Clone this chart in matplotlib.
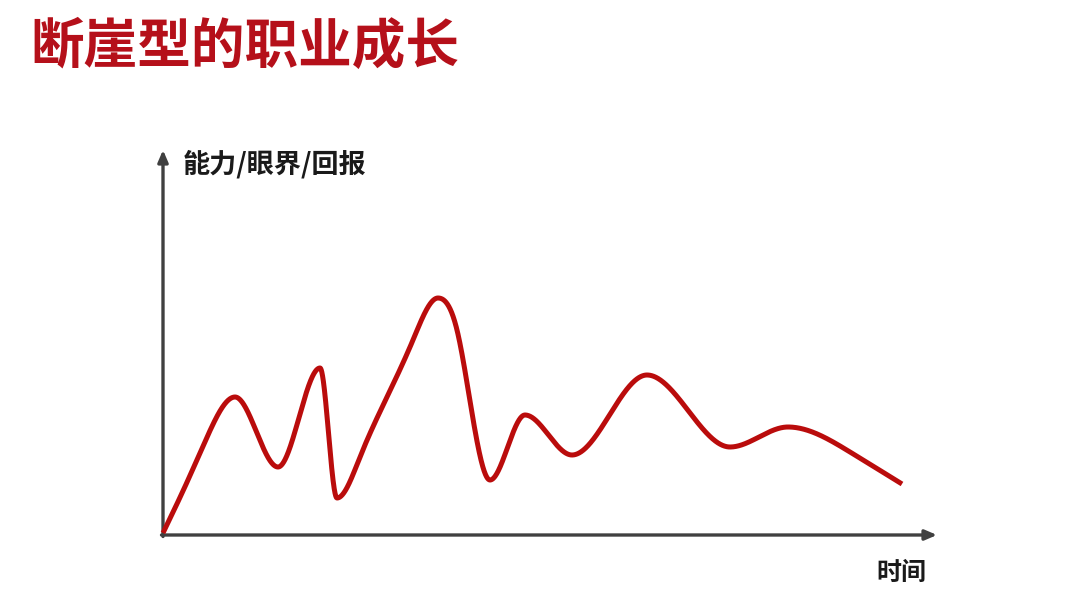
import numpy as np
import matplotlib
matplotlib.use("Agg")
import matplotlib.pyplot as plt

plt.rcParams['font.family'] = ['Noto Sans CJK SC', 'DejaVu Sans']

title = "断崖型的职业成长"
y_label = "能力/眼界/回报"
x_label = "时间"

# curve points (time, value)
t_pts = [0, 25, 45, 72, 115, 157, 174, 197, 224, 250, 275, 294, 327, 362, 409, 484, 567, 625, 687, 739]
v_pts = [2, 55, 100, 138, 68, 167, 37, 78, 138, 195, 237, 205, 55, 120, 80, 160, 88, 108, 83, 51]

RED = "#BA0C0C"
AXIS = "#404040"


def spline_curve(x, y, xs):
    """Cubic spline, C2 inside each rising/falling run, flat tangents at the peaks and troughs."""
    x = np.asarray(x, float); y = np.asarray(y, float)
    n = len(x); h = np.diff(x); d = np.diff(y) / h
    A = np.zeros((n, n)); b = np.zeros(n)
    # natural ends
    A[0, 0], A[0, 1], b[0] = 2, 1, 3 * d[0]
    A[-1, -2], A[-1, -1], b[-1] = 1, 2, 3 * d[-1]
    for k in range(1, n - 1):
        if d[k - 1] * d[k] <= 0:          # local extremum -> flat tangent
            A[k, k] = 1
        else:                             # continuity of 2nd derivative
            A[k, k - 1] = 1 / h[k - 1]
            A[k, k] = 2 * (1 / h[k - 1] + 1 / h[k])
            A[k, k + 1] = 1 / h[k]
            b[k] = 3 * (d[k - 1] / h[k - 1] + d[k] / h[k])
    m = np.linalg.solve(A, b)
    idx = np.clip(np.searchsorted(x, xs) - 1, 0, n - 2)
    t = (xs - x[idx]) / h[idx]
    h00 = 2 * t**3 - 3 * t**2 + 1; h10 = t**3 - 2 * t**2 + t
    h01 = -2 * t**3 + 3 * t**2; h11 = t**3 - t**2
    return h00 * y[idx] + h10 * h[idx] * m[idx] + h01 * y[idx + 1] + h11 * h[idx] * m[idx + 1]


fig = plt.figure(figsize=(10.8, 6.08), dpi=100)
ax = fig.add_axes([0, 0, 1, 1])
ax.set_xlim(-163, 1080 - 163)
ax.set_ylim(-(608 - 535), 535)
ax.axis('off')

xs = np.linspace(t_pts[0], t_pts[-1], 8000)
ax.plot(xs, spline_curve(t_pts, v_pts, xs), color=RED, lw=3.6, solid_capstyle='butt', zorder=3)

# axes with arrows
ax.annotate("", xy=(0, 535 - 150), xytext=(0, -1.5),
            arrowprops=dict(arrowstyle="-|>,head_length=0.7,head_width=0.3", color=AXIS, lw=2.4,
                            shrinkA=0, shrinkB=0), zorder=2)
ax.annotate("", xy=(937 - 163, 0), xytext=(-1.5, 0),
            arrowprops=dict(arrowstyle="-|>,head_length=0.7,head_width=0.3", color=AXIS, lw=2.4,
                            shrinkA=0, shrinkB=0), zorder=2)

fig.text(30 / 1080, 1 - 47 / 608, title, color="#B5101A", fontsize=38.6, fontweight='bold',
         ha='left', va='center')
fig.text(183 / 1080, 1 - 164 / 608, y_label, color="#1a1a1a", fontsize=19.5, fontweight='bold',
         ha='left', va='center')
fig.text(926 / 1080, 1 - 573 / 608, x_label, color="#1a1a1a", fontsize=18, fontweight='bold',
         ha='right', va='center')

fig.savefig("out.png", dpi=100, facecolor="white")
